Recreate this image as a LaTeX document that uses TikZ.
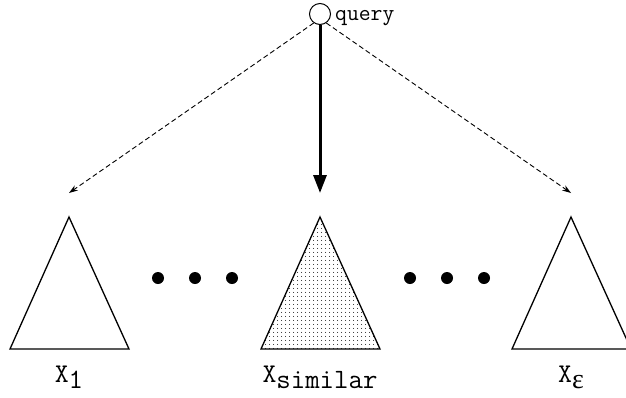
\documentclass[tikz,border=0pt]{standalone}
\usepackage{fontspec}
\newfontfamily\epsfont{Liberation Serif}
\usetikzlibrary{patterns.meta,arrows.meta}
\tikzdeclarepattern{
  name=sparsedots,
  type=uncolored,
  bounding box={(0pt,0pt) and (4pt,4pt)},
  tile size={(4pt,4pt)},
  code={\fill (2pt,2pt) circle (0.6pt);}
}
\tikzset{
  tri/.style={draw=black, line width=1.3pt, line join=miter},
  dashedarrow/.style={draw=black, line width=0.9pt, dash pattern=on 5pt off 3pt, -{Stealth[length=9pt,width=6pt,inset=3pt]}},
  mainarrow/.style={draw=black, line width=3pt, -{Triangle[length=18pt,width=13pt]}},
  bigdot/.style={fill=black, circle, inner sep=0pt, minimum size=12pt},
  lbl/.style={anchor=base, inner sep=0pt, font=\ttfamily\fontsize{27}{29}\selectfont},
}
\newcommand{\subtxt}[1]{\raisebox{-6pt}{\fontsize{28}{30}\selectfont #1}}
\begin{document}
\begin{tikzpicture}[x=1pt,y=-1pt]
\useasboundingbox (0,0) rectangle (626,397);
% query node
\node[circle, draw=black, line width=1pt, minimum size=21pt, inner sep=0pt] (q) at (320,14) {};
\node[anchor=base west, inner sep=0pt, font=\ttfamily\fontsize{23}{25}\selectfont] (qlabel) at (335,20) {query};
% triangle apexes
\coordinate (a1) at (69,217);
\coordinate (a2) at (320,217);
\coordinate (a3) at (571,217);
\coordinate (t1) at (69,193);
\coordinate (t2) at (320,193);
\coordinate (t3) at (571,193);
% triangles
\draw[tri] (a1) -- (10,349) -- (129,349) -- cycle;
\fill[pattern=sparsedots, pattern color=black] (a2) -- (261,349) -- (380,349) -- cycle;
\draw[tri] (a2) -- (261,349) -- (380,349) -- cycle;
\draw[tri] (a3) -- (512,349) -- (631,349) -- cycle;
% arrows
\draw[mainarrow] (q.south) -- (t2);
\draw[dashedarrow] (q.235) -- (t1);
\draw[dashedarrow] (q.305) -- (t3);
% dots
\node[bigdot] (d1) at (158,278) {};
\node[bigdot] (d2) at (195,278) {};
\node[bigdot] (d3) at (232,278) {};
\node[bigdot] (d4) at (410,278) {};
\node[bigdot] (d5) at (447,278) {};
\node[bigdot] (d6) at (484,278) {};
% labels
\node[lbl] (l1) at (69,382) {X\subtxt{1}};
\node[lbl] (l2) at (320,382) {X\subtxt{similar}};
\node[lbl] (l3) at (571,382) {X\subtxt{\epsfont ε}};
\end{tikzpicture}
\end{document}
